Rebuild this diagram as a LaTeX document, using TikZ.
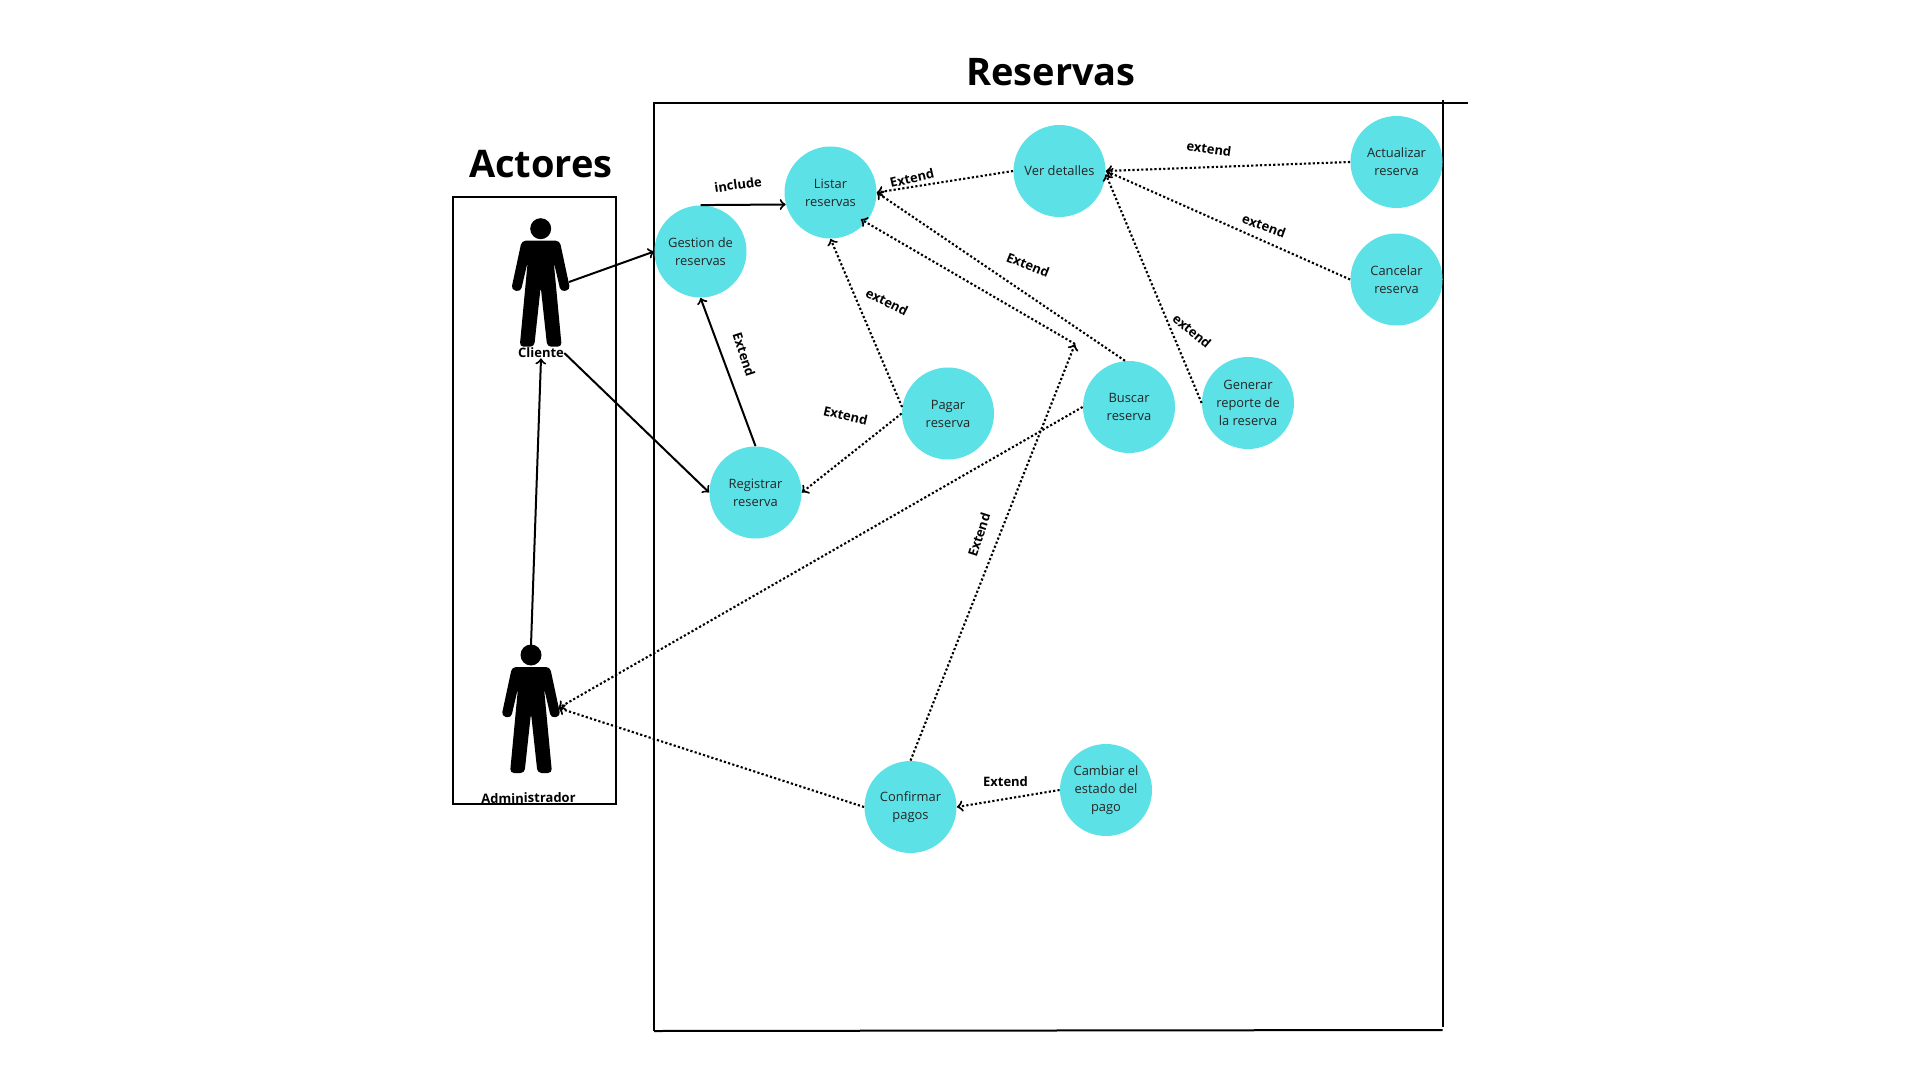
\documentclass[tikz,border=0pt]{standalone}
\usepackage{fontspec}
\setmainfont{Open Sans}
\usetikzlibrary{calc}
\definecolor{casocolor}{HTML}{5CE1E6}
\tikzset{>=to,
  caso/.style={circle,fill=casocolor,inner sep=0pt,minimum size=46pt,align=center,
    font=\fontsize{6.45}{9}\selectfont,text=black!85},
  etiq/.style={font=\fontsize{6.5}{8}\selectfont\bfseries,inner sep=0pt},
  titulo/.style={font=\fontsize{19}{22}\selectfont\bfseries,inner sep=0pt},
  solido/.style={->,line width=1pt},
  punteado/.style={->,line width=1.05pt,dash pattern=on 1.1pt off 1.1pt},
  marco/.style={line width=1pt},
  figura/.pic={
    \fill (0,0) circle (10.5);
    \fill[rounded corners=2pt] (-19,12)--(19,12)--(29.5,61)--(20,63)--(13,33)--(21,118)
      --(6.5,118)--(0,58)--(-6.5,118)--(-21,118)--(-13,33)--(-20,63)--(-29.5,61)--cycle;
  }
}
\begin{document}
\begin{tikzpicture}[x=.5pt,y=-.5pt]
  \useasboundingbox (0,0) rectangle (1920,1080);
  % marcos
  \draw[marco] (654,1031)--(654,103)--(1468,103);
  \draw[marco] (1442.5,100)--(1442.5,1027);
  \draw[marco] (654,1031)--(1442.5,1030);
  \draw[marco] (453,804)--(453,197)--(616,197)--(616,804)--cycle;
  \node[titulo] (treservas) at (1051,72) {Reservas};
  \node[titulo] (tactores) at (541,164) {Actores};
  % actores
  \pic at (540.7,228.7) {figura};
  \pic at (531,655) {figura};
  \node[etiq] (cliente) at (541,353) {Cliente};
  \node[etiq,rotate=1] (admin) at (528.5,798) {Administrador};
  \coordinate (clientemano) at (569,282);
  \coordinate (adminhead) at (531,645);
  \coordinate (adminmano) at (558.5,708);
  % casos de uso
  \node[caso] (gestion) at (700.5,251.5) {Gestion de\\reservas};
  \node[caso] (listar) at (830.5,192.5) {Listar\\reservas};
  \node[caso] (ver) at (1059.5,171) {Ver detalles};
  \node[caso] (actualizar) at (1396.5,162) {Actualizar\\reserva};
  \node[caso] (cancelar) at (1396.5,279.5) {Cancelar\\reserva};
  \node[caso] (generar) at (1248,403) {Generar\\reporte de\\la reserva};
  \node[caso] (buscar) at (1129,407) {Buscar\\reserva};
  \node[caso] (pagar) at (948,413.5) {Pagar\\reserva};
  \node[caso] (registrar) at (755.5,492.5) {Registrar\\reserva};
  \node[caso] (confirmar) at (910.5,807) {Confirmar\\pagos};
  \node[caso] (cambiar) at (1106,790) {Cambiar el\\estado del\\pago};
  \coordinate (cruce) at (1075,344);
  % conectores
  \draw[solido] (clientemano)--(gestion.west);
  \draw[solido] (cliente.east)--(registrar.west);
  \draw[solido] (adminhead)--(cliente.south);
  \draw[solido] (gestion.north)--(listar.195);
  \draw[solido] (registrar.north)--(gestion.south);
  \draw[punteado] (pagar.west)--(registrar.east);
  \draw[punteado] (pagar.172)--(listar.south);
  \draw[punteado] (ver.west)--(listar.east);
  \draw[punteado] (actualizar.west)--(ver.east);
  \draw[punteado] (cancelar.west)--(ver.east);
  \draw[punteado] (generar.west)--(ver.-4);
  \draw[punteado] (buscar.95)--(listar.east);
  \draw[punteado,shorten >=-3pt] (cruce)--(listar.-40);
  \draw[punteado] (confirmar.north)--(cruce);
  \draw[punteado] (buscar.west)--(adminmano);
  \draw[punteado] (confirmar.west)--(adminmano);
  \draw[punteado] (cambiar.west)--(confirmar.east);
  % etiquetas
  \node[etiq,rotate=8] (e1) at (738,184.5) {include};
  \node[etiq,rotate=13] (e2) at (912,178) {Extend};
  \node[etiq,rotate=-8] (e3) at (1209,149) {extend};
  \node[etiq,rotate=-20] (e4) at (1264,226) {extend};
  \node[etiq,rotate=-22] (e5) at (1028,265) {Extend};
  \node[etiq,rotate=-27] (e6) at (887,302) {extend};
  \node[etiq,rotate=-40] (e7) at (1192,331) {extend};
  \node[etiq,rotate=-72] (e8) at (744,354.5) {Extend};
  \node[etiq,rotate=-13] (e9) at (845.5,415.5) {Extend};
  \node[etiq,rotate=72] (e10) at (979,535) {Extend};
  \node[etiq] (e11) at (1005.5,782) {Extend};
\end{tikzpicture}
\end{document}
